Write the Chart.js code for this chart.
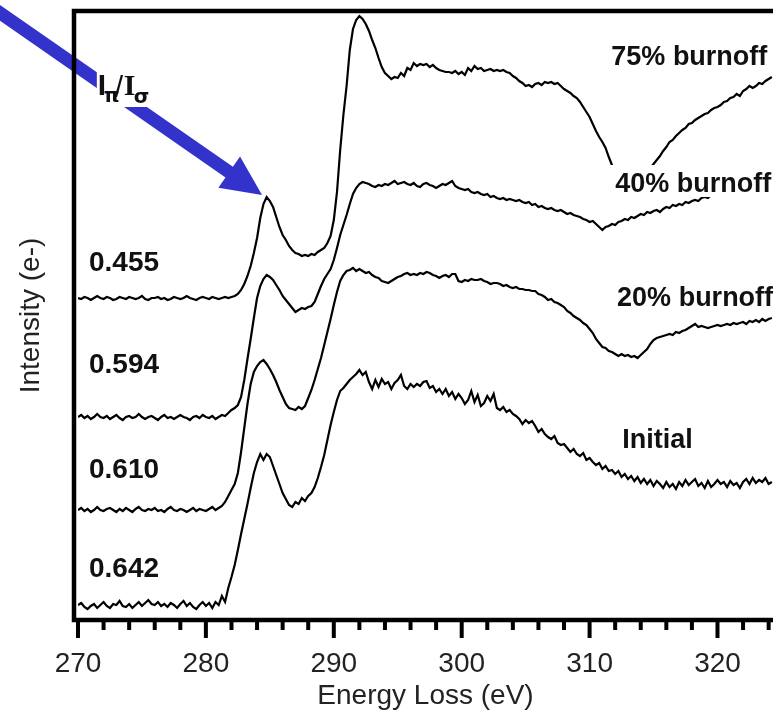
<!DOCTYPE html>
<html>
<head>
<meta charset="utf-8">
<title>Carbon K-edge EELS</title>
<script src="https://cdn.jsdelivr.net/npm/chart.js@4.4.1/dist/chart.umd.min.js"></script>
<style>
  html, body { margin: 0; padding: 0; background: #fff; }
  #graph { display: block; }
</style>
</head>
<body>
<canvas id="graph" width="773" height="714"></canvas>
<script>
// spectra are sampled every 0.25 eV starting at 270 eV, stacked with offsets
const energyStart = 270;
const energyStep = 0.25;

const burnoff75 = [
  322,321,323,322,320,322,324,322, 321,323,322,320,321,323,322,321,
  323,322,321,322,324,321,320,322, 322,323,321,322,320,321,323,322,
  321,322,324,322,321,320,322,323, 322,321,323,322,321,322,323,322,
  323,324,326,330,336,344,354,367, 382,402,416,423,419,413,403,393,
  385,380,374,370,367,366,364,365, 364,366,365,368,370,372,377,384,
  400,428,470,505,534,570,591,600, 604,601,596,589,580,572,562,553,
  547,544,541,543,542,547,544,552, 550,557,554,556,555,556,553,555,
  552,550,549,548,548,547,549,546, 548,545,552,549,554,551,552,549,
  550,551,549,550,549,550,548,547, 544,542,539,537,534,535,533,536,
  537,535,538,537,538,536,537,534, 531,529,527,524,522,518,513,508,
  503,496,489,483,478,472,463,455, 448,443,438,434,431,430,432,436,
  440,444,448,452,456,460,464,469, 473,478,480,484,487,490,492,496,
  497,500,502,504,506,507,510,512, 513,515,518,519,522,523,526,524,
  529,531,534,532,534,537,536,539, 541,543
];

const burnoff40 = [
  203,205,202,204,201,203,206,203, 202,204,201,203,205,202,200,203,
  204,202,203,206,203,201,203,204, 202,200,203,205,202,203,201,203,
  205,203,202,200,203,204,202,205, 203,202,204,201,203,205,204,207,
  210,212,215,223,240,261,281,302, 322,334,341,345,343,340,335,330,
  324,320,316,312,308,310,312,311, 313,314,318,326,334,341,346,351,
  360,372,385,395,405,416,426,432, 436,438,437,436,434,433,435,434,
  436,435,437,439,436,437,438,436, 435,437,434,433,436,437,435,434,
  432,434,436,435,437,439,434,432, 431,430,431,428,427,428,426,425,
  426,423,424,422,421,422,420,421, 420,419,420,418,417,418,415,416,
  413,414,412,411,412,410,409,410, 408,406,407,405,404,403,401,400,
  398,399,396,393,390,393,394,396, 395,398,399,401,400,403,402,404,
  406,405,408,407,409,410,408,411, 413,412,415,414,416,415,418,417,
  419,420,419,422,423,422,425,426, 428,430,429,431,430,429,431,430,
  432,430,429,431,430,432,431,429, 430,431
];

const burnoff20 = [
  110,112,109,111,108,110,113,110, 109,111,112,110,108,111,109,112,
  110,108,111,113,110,109,111,110, 112,109,110,108,111,113,110,109,
  111,110,108,110,112,109,111,110, 109,111,113,110,112,114,118,124,
  130,136,147,168,192,216,236,248, 254,258,260,256,251,245,238,230,
  223,216,212,211,210,213,211,214, 222,230,240,251,262,275,288,301,
  315,328,339,345,349,350,352,349, 351,349,347,348,345,343,342,339,
  338,337,339,341,343,344,346,347, 345,346,345,347,346,348,347,345,
  344,342,344,345,343,346,346,339, 338,340,339,341,340,340,341,339,
  338,336,337,337,336,334,335,333, 332,333,331,331,330,330,329,329,
  326,325,323,320,321,318,317,315, 313,309,307,304,302,300,297,295,
  291,287,281,277,273,272,269,268, 266,264,266,264,265,263,264,262,
  265,268,271,276,280,282,283,284, 285,286,285,288,287,289,290,292,
  294,296,293,294,293,292,293,294, 295,294,295,296,295,297,296,297,
  298,296,299,298,300,298,301,299, 301,302
];

const initial = [
  15,17,13,11,14,16,12,15, 18,14,12,16,15,19,14,13,
  16,12,15,18,14,17,20,16, 15,18,14,16,13,17,15,12,
  16,19,14,17,13,11,15,18, 14,17,12,18,15,24,18,32,
  43,55,70,86,101,116,132,147, 158,166,160,166,163,154,145,136,
  127,121,115,113,118,116,122,119, 124,127,133,142,153,165,180,195,
  208,220,229,232,236,240,243,246, 250,245,248,238,231,240,233,241,
  236,238,231,237,240,245,234,231, 236,233,236,234,238,239,232,234,
  228,231,226,231,224,228,221,226, 222,216,220,229,218,225,214,217,
  224,219,226,212,210,213,208,210, 206,204,201,196,200,197,199,194,
  188,191,186,183,181,184,177,175, 176,172,168,171,166,164,167,160,
  162,158,155,157,151,154,149,150, 146,149,143,146,141,144,139,143,
  137,141,136,140,134,139,136,132, 138,133,136,131,138,134,140,135,
  138,141,134,137,132,139,133,136, 140,136,138,133,139,135,137,132,
  138,141,136,142,137,140,138,142, 136,138
];

const spectra = [burnoff75, burnoff40, burnoff20, initial];
const sampleNames = ['75% burnoff', '40% burnoff', '20% burnoff', 'Initial'];
const piSigmaRatios = ['0.455', '0.594', '0.610', '0.642'];

// label anchors in data units (eV, intensity): left edge / text baseline
const namePos = [[311.7, 555], [312.0, 428], [312.15, 314], [312.55, 172]];
const ratioPos = [[270.86, 349], [270.86, 247], [270.86, 142], [270.86, 43]];
const ratioTitlePos = [271.55, 525];
const arrowTail = [262.0, 624];
const arrowTip = [284.39, 425];

const sans = '"Liberation Sans", Arial, Helvetica, sans-serif';

function drawArrow(c, x0, y0, x1, y1) {
  const len = Math.hypot(x1 - x0, y1 - y0);
  const ux = (x1 - x0) / len, uy = (y1 - y0) / len;
  const nx = -uy, ny = ux;
  const head = 40, halfHead = 19, halfShaft = 6.5;
  const bx = x1 - ux * head, by = y1 - uy * head;
  c.beginPath();
  c.moveTo(x0 + nx * halfShaft, y0 + ny * halfShaft);
  c.lineTo(bx + nx * halfShaft, by + ny * halfShaft);
  c.lineTo(bx + nx * halfHead, by + ny * halfHead);
  c.lineTo(x1, y1);
  c.lineTo(bx - nx * halfHead, by - ny * halfHead);
  c.lineTo(bx - nx * halfShaft, by - ny * halfShaft);
  c.lineTo(x0 - nx * halfShaft, y0 - ny * halfShaft);
  c.closePath();
  c.fillStyle = '#3333cc';
  c.fill();
}

const decorations = {
  id: 'decorations',
  afterDatasetsDraw(chart) {
    const c = chart.ctx;
    const xs = chart.scales.x, ys = chart.scales.y;
    c.save();

    drawArrow(c, xs.getPixelForValue(arrowTail[0]), ys.getPixelForValue(arrowTail[1]),
      xs.getPixelForValue(arrowTip[0]), ys.getPixelForValue(arrowTip[1]));

    c.textBaseline = 'alphabetic';
    c.textAlign = 'left';

    // sample names sit on white boxes that hide the traces behind them
    c.font = 'bold 27px ' + sans;
    sampleNames.forEach((txt, i) => {
      const px = xs.getPixelForValue(namePos[i][0]);
      const py = ys.getPixelForValue(namePos[i][1]);
      const w = c.measureText(txt).width;
      c.fillStyle = '#fff';
      c.fillRect(px - 5, py - 27, w + 10, 32);
      c.fillStyle = '#111';
      c.fillText(txt, px, py);
    });

    c.font = 'bold 28px ' + sans;
    c.fillStyle = '#111';
    piSigmaRatios.forEach((txt, i) => {
      c.fillText(txt, xs.getPixelForValue(ratioPos[i][0]), ys.getPixelForValue(ratioPos[i][1]));
    });

    // I_pi / I_sigma
    const tx = xs.getPixelForValue(ratioTitlePos[0]);
    const ty = ys.getPixelForValue(ratioTitlePos[1]);
    c.fillStyle = '#fff';
    c.fillRect(tx - 1, ty - 27, 52, 39);
    c.fillStyle = '#111';
    c.font = 'bold 30px ' + sans;
    c.fillText('I', tx, ty);
    c.font = 'bold 20px "DejaVu Sans", sans-serif';
    c.fillText('\u03c0', tx + 6, ty + 7);
    c.font = '30px ' + sans;
    c.fillText('/', tx + 17, ty + 2);
    c.font = 'bold 30px "Liberation Serif", "Times New Roman", serif';
    c.fillText('I', tx + 26, ty);
    c.font = 'bold 20px "DejaVu Sans", sans-serif';
    c.fillText('\u03c3', tx + 36, ty + 8);

    c.restore();
  },
  afterDraw(chart) {
    const c = chart.ctx;
    const {left, top, right, bottom} = chart.chartArea;
    const xs = chart.scales.x;
    c.save();
    c.strokeStyle = '#000';
    c.lineWidth = 4.5;
    c.lineJoin = 'miter';
    c.beginPath();
    c.moveTo(right + 5, top);
    c.lineTo(left - 4, top);
    c.lineTo(left - 4, bottom);
    c.lineTo(right + 5, bottom);
    c.stroke();

    // tick marks: long every 10 eV, short every 2 eV
    c.lineWidth = 4;
    c.beginPath();
    xs.ticks.forEach(t => {
      const px = xs.getPixelForValue(t.value);
      c.moveTo(px, bottom);
      c.lineTo(px, bottom + (t.value % 10 === 0 ? 18 : 10));
    });
    c.stroke();
    c.restore();
  }
};

const ctx = document.getElementById('graph');

const graph = new Chart(ctx, {
  type: 'line',
  data: {
    datasets: spectra.map((values, k) => ({
      label: sampleNames[k],
      data: values.map((v, i) => ({x: energyStart + i * energyStep, y: v})),
      borderColor: '#000',
      borderWidth: 2.2,
      pointRadius: 0,
      tension: 0,
      fill: false
    }))
  },
  options: {
    responsive: false,
    animation: false,
    events: [],
    layout: {
      padding: {left: 14.2, top: 11, right: 0, bottom: 0}
    },
    plugins: {
      legend: {display: false},
      tooltip: {enabled: false}
    },
    scales: {
      x: {
        type: 'linear',
        min: 270,
        max: 324.34,
        border: {display: false},
        grid: {
          display: true,
          drawOnChartArea: false,
          drawTicks: true,
          tickLength: 18,
          tickColor: 'rgba(0,0,0,0)'
        },
        ticks: {
          stepSize: 2,
          autoSkip: false,
          maxRotation: 0,
          includeBounds: false,
          padding: 12,
          color: '#222',
          font: {family: sans, size: 28, lineHeight: 1},
          callback: v => (v % 10 === 0 ? String(v) : '')
        },
        title: {
          display: true,
          text: 'Energy Loss (eV)',
          color: '#222',
          font: {family: sans, size: 28, lineHeight: 1.15},
          padding: {top: 0, bottom: 1.5}
        },
        afterFit(scale) {
          scale.height = 94;
          scale.paddingLeft = 0;
          scale.paddingRight = 0;
        }
      },
      y: {
        min: 0,
        max: 609,
        border: {display: false},
        grid: {display: false, drawTicks: false},
        ticks: {display: false},
        title: {
          display: true,
          text: 'Intensity (e-)',
          color: '#222',
          font: {family: sans, size: 28, lineHeight: 1.2},
          padding: {top: 0, bottom: 30.2}
        },
        afterFit(scale) {
          scale.width = 63.8;
        }
      }
    }
  },
  plugins: [decorations]
});
</script>
</body>
</html>
